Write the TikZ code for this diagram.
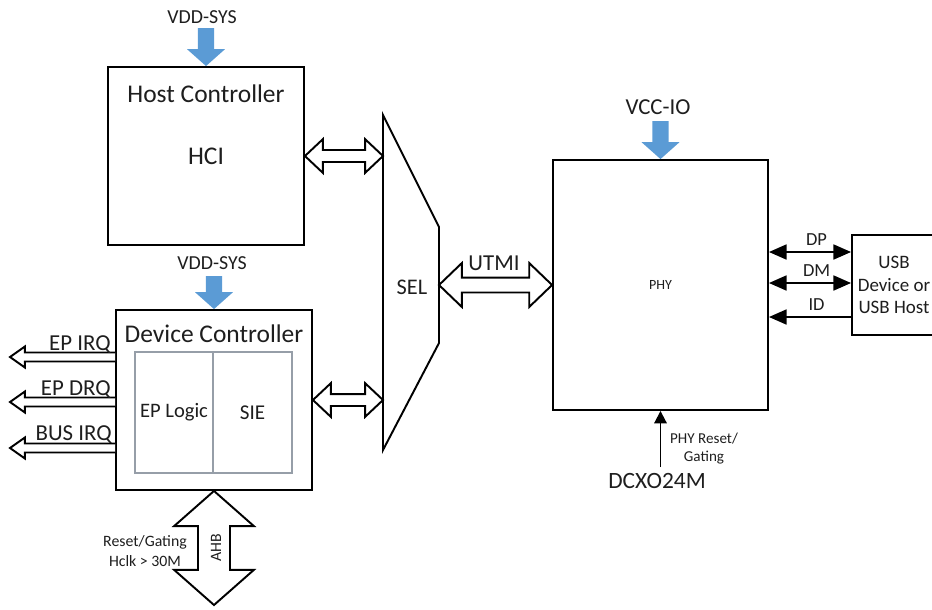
\documentclass[tikz,border=0pt]{standalone}
\usepackage{fontspec}
\setmainfont{Carlito}
\usepackage{tikz}
\usetikzlibrary{arrows.meta,positioning,calc}
\definecolor{supplyblue}{RGB}{91,155,213}
\definecolor{innergray}{RGB}{150,158,168}
\definecolor{texto}{RGB}{30,30,30}

\tikzset{
  block/.style={draw,line width=1.1pt,inner sep=0pt},
  inner/.style={draw=innergray,line width=0.6pt,inner sep=0pt},
  fat/.style={draw,line width=1.1pt,fill=white,line join=miter},
  supply/.style={fill=supplyblue},
  sig/.style={line width=1.1pt},
  bigtext/.style={text=texto,font=\fontsize{14.5}{17}\selectfont},
  midtext/.style={text=texto,font=\fontsize{13}{15}\selectfont},
  smalltext/.style={text=texto,font=\fontsize{9}{11.3}\selectfont}
}

\newcommand{\fatarrow}[6][0]{%
  \begin{scope}[shift={(#2)},rotate=#1]
  \draw[fat] let \p1=(#2), \p2=(#3), \n1={veclen(\x2-\x1,\y2-\y1)} in
    (0,0) -- (#6,#5) -- (#6,#4) -- ({\n1-#6},#4) -- ({\n1-#6},#5) -- (\n1,0)
    -- ({\n1-#6},-#5) -- ({\n1-#6},-#4) -- (#6,-#4) -- (#6,-#5) -- cycle;
  \end{scope}}

\newcommand{\fatsingle}[6][0]{%
  \begin{scope}[shift={(#2)},rotate=#1]
  \draw[fat] let \p1=(#2), \p2=(#3), \n1={veclen(\x2-\x1,\y2-\y1)} in
    (0,#4) -- ({\n1-#6},#4) -- ({\n1-#6},#5) -- (\n1,0)
    -- ({\n1-#6},-#5) -- ({\n1-#6},-#4) -- (0,-#4);
  \end{scope}}

\newcommand{\supplyarrow}[2]{%
  \begin{scope}[shift={(#2)}]
  \fill[supply] let \p1=(#1), \p2=(#2), \n1={veclen(\x2-\x1,\y2-\y1)} in
    (0,0) -- (-10.8pt,9.6pt) -- (-4.6pt,9.6pt) -- (-4.6pt,\n1) -- (4.6pt,\n1)
    -- (4.6pt,9.6pt) -- (10.8pt,9.6pt) -- cycle;
  \end{scope}}

\begin{document}
\begin{tikzpicture}[x=0.02cm,y=-0.02cm]
\useasboundingbox (0,0) rectangle (932,609);

\node[block,minimum width=3.92cm,minimum height=3.56cm] (host) at (206,156) {};
\node[bigtext] (hostname) at (206,94) {Host Controller};
\node[bigtext] (hci) at (206,156) {HCI};
\node[text=texto,font=\fontsize{11.3}{13}\selectfont] (vddhost) at (202,17) {VDD-SYS};
\coordinate (vddhost-tail) at (206,28);
\supplyarrow{vddhost-tail}{host.north}

\node[block,minimum width=3.92cm,minimum height=3.6cm] (device) at (214,400) {};
\node[bigtext] (devname) at (214,334) {Device Controller};
\node[inner,minimum width=1.56cm,minimum height=2.42cm,text=texto,font=\fontsize{11.7}{14}\selectfont] (eplogic) at (174,412.5) {EP Logic};
\node[inner,minimum width=1.58cm,minimum height=2.42cm,text=texto,font=\fontsize{12}{14}\selectfont] (sie) at (252.5,412.5) {SIE};
\node[text=texto,font=\fontsize{11.3}{13}\selectfont] (vdddev) at (212,263) {VDD-SYS};
\coordinate (vdddev-tail) at (214,276);
\supplyarrow{vdddev-tail}{device.north}

\coordinate (epirq) at (10,357);
\coordinate (epdrq) at (10,402);
\coordinate (busirq) at (10,448);
\fatsingle[180]{device.west |- epirq}{epirq}{2.55pt}{6pt}{8.5pt}
\fatsingle[180]{device.west |- epdrq}{epdrq}{2.55pt}{6pt}{8.5pt}
\fatsingle[180]{device.west |- busirq}{busirq}{2.55pt}{6pt}{8.5pt}
\node[midtext,anchor=base east,inner sep=0pt] (epirqlbl) at (111,350) {EP IRQ};
\node[midtext,anchor=base east,inner sep=0pt] (epdrqlbl) at (111,395) {EP DRQ};
\node[midtext,anchor=base east,inner sep=0pt] (busirqlbl) at (112,440) {BUS IRQ};

\coordinate (ahb) at (214,605);
\fatarrow[-90]{device.south}{ahb}{9.1pt}{22.7pt}{20pt}
\node[smalltext,rotate=90] (ahblbl) at (216,548) {AHB};
\node[smalltext,align=center] (hclk) at (145,551) {Reset/Gating\\Hclk > 30M};

\draw[line width=1.1pt,line join=miter] (383,115) coordinate (sel-tl) -- (439,227) -- (439,343) -- (383,450) coordinate (sel-bl) -- cycle;
\node[text=texto,font=\fontsize{12.7}{15}\selectfont] (sel) at (412,287) {SEL};
\coordinate (sel-out) at (439,285);
\fatarrow{host.east}{sel-tl |- host.east}{3.4pt}{9.6pt}{10.2pt}
\fatarrow{device.east}{sel-tl |- device.east}{3.4pt}{9.6pt}{10.2pt}

\node[block,minimum width=4.3cm,minimum height=5cm,text=texto,font=\fontsize{8}{10}\selectfont] (phy) at (660.5,285) {PHY};
\fatarrow{sel-out}{phy.west}{4.25pt}{12.5pt}{13pt}
\node[midtext] (utmi) at (494,263) {UTMI};
\node[midtext] (vccio) at (658,107) {VCC-IO};
\coordinate (vccio-tail) at (660.5,121);
\supplyarrow{vccio-tail}{phy.north}

\node[block,minimum width=1.68cm,minimum height=2cm,align=center,text=texto,font=\fontsize{10.8}{13}\selectfont] (usb) at (894,285) {USB\\Device or\\USB Host};
\coordinate (dp) at (810,252);
\coordinate (dm) at (810,283);
\coordinate (id) at (810,317);
\draw[sig,{Triangle[length=10pt,width=8.5pt]}-{Triangle[length=10pt,width=8.5pt]}] (phy.east |- dp) -- node[pos=0.58,above,text=texto,font=\fontsize{10.5}{12}\selectfont] (dplbl) {DP} (usb.west |- dp);
\draw[sig,{Triangle[length=10pt,width=8.5pt]}-{Triangle[length=10pt,width=8.5pt]}] (phy.east |- dm) -- node[pos=0.58,above,text=texto,font=\fontsize{10.5}{12}\selectfont] (dmlbl) {DM} (usb.west |- dm);
\draw[sig,-{Triangle[length=10pt,width=8.5pt]}] (usb.west |- id) -- node[pos=0.42,above,text=texto,font=\fontsize{10.5}{12}\selectfont] (idlbl) {ID} (phy.east |- id);

\node[text=texto,font=\fontsize{13.3}{15}\selectfont] (dcxo) at (657,481) {DCXO24M};
\draw[sig,-{Triangle[length=7pt,width=7pt]}] (dcxo.north -| phy.south) -- (phy.south);
\node[align=center,text=texto,font=\fontsize{8.6}{10.2}\selectfont] (resetlbl) at (704,449) {PHY Reset/\\Gating};
\end{tikzpicture}
\end{document}
